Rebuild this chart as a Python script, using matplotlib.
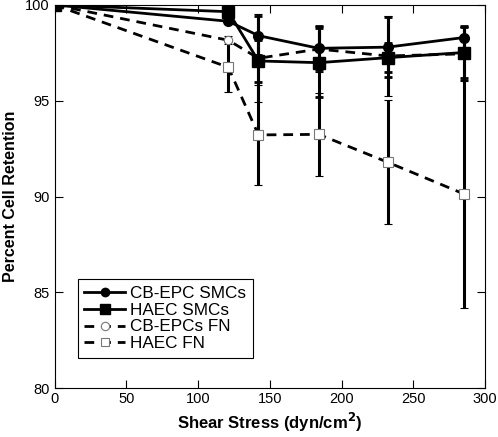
import matplotlib
matplotlib.use("Agg")
import matplotlib.pyplot as plt
from matplotlib.lines import Line2D

plt.rcParams['font.family'] = ['Liberation Sans', 'DejaVu Sans']

shear = [0, 121, 142, 184, 232, 285]

cb_smc = [100, 99.15, 98.4, 97.74, 97.8, 98.3]
cb_smc_err = [0, 0.1, 1.0, 1.15, 1.55, 0.6]

haec_smc = [100, 99.65, 97.08, 96.99, 97.25, 97.52]
haec_smc_err = [0, 0.1, 1.1, 1.8, 0.75, 1.35]

cb_fn = [100, 98.16, 97.22, 97.7, 97.34, 97.45]
cb_fn_err = [0, 0.2, 2.3, 1.2, 2.1, 1.4]

haec_fn = [100, 96.75, 93.22, 93.25, 91.8, 90.15]
haec_fn_err = [0, 1.3, 2.6, 2.15, 3.25, 5.95]

fig = plt.figure(figsize=(4.98, 4.37), dpi=100)
ax = fig.add_axes([0.110, 0.1114, 0.864, 0.8772])

ekw = dict(ecolor='black', elinewidth=2.2, capsize=3, capthick=2)
dash = (0, (3.5, 2.5))

ax.errorbar(shear, haec_fn, yerr=haec_fn_err, color='black', lw=2, ls=dash,
            marker='s', ms=7, mfc='white', mec='#777777', mew=0.8, zorder=2, **ekw)
ax.errorbar(shear, cb_fn, yerr=cb_fn_err, color='black', lw=2, ls=dash,
            marker='o', ms=6, mfc='white', mec='#777777', mew=0.8, zorder=2, **ekw)
ax.errorbar(shear, haec_smc, yerr=haec_smc_err, color='black', lw=2, ls='-',
            marker='s', ms=8, mfc='black', mec='black', zorder=3, **ekw)
ax.errorbar(shear, cb_smc, yerr=cb_smc_err, color='black', lw=2, ls='-',
            marker='o', ms=7, mfc='black', mec='black', zorder=3, **ekw)

ax.set_xlim(0, 300)
ax.set_ylim(80, 100)
ax.set_xticks([0, 50, 100, 150, 200, 250, 300])
ax.set_yticks([80, 85, 90, 95, 100])
ax.tick_params(direction='in', top=True, right=True, length=6, labelsize=10.5, width=0.8)
ax.tick_params(axis='x', pad=3)
for s in ax.spines.values():
    s.set_linewidth(0.8)

ax.set_xlabel('Shear Stress (dyn/cm$^\\mathbf{2}$)', fontsize=12, fontweight='bold', labelpad=3)
ax.set_ylabel('Percent Cell Retention', fontsize=11.5, fontweight='bold', labelpad=5)

handles = [
    Line2D([], [], color='black', lw=2, marker='o', ms=6, mfc='black', mec='black'),
    Line2D([], [], color='black', lw=2, marker='s', ms=7, mfc='black', mec='black'),
    Line2D([], [], color='black', lw=2, ls=dash, marker='o', ms=6, mfc='white', mec='#777777', mew=0.8),
    Line2D([], [], color='black', lw=2, ls=dash, marker='s', ms=6, mfc='white', mec='#777777', mew=0.8),
]
labels = ['CB-EPC SMCs', 'HAEC SMCs', 'CB-EPCs FN', 'HAEC FN']
leg = ax.legend(handles, labels,
                loc='lower left', bbox_to_anchor=(0.053, 0.079), borderaxespad=0,
                fontsize=12.3, frameon=True, fancybox=False, edgecolor='black', framealpha=1,
                handlelength=2.4, handletextpad=0.25, labelspacing=0.1, borderpad=0.4)
leg.get_frame().set_linewidth(0.8)

fig.savefig('out.png', dpi=100)
